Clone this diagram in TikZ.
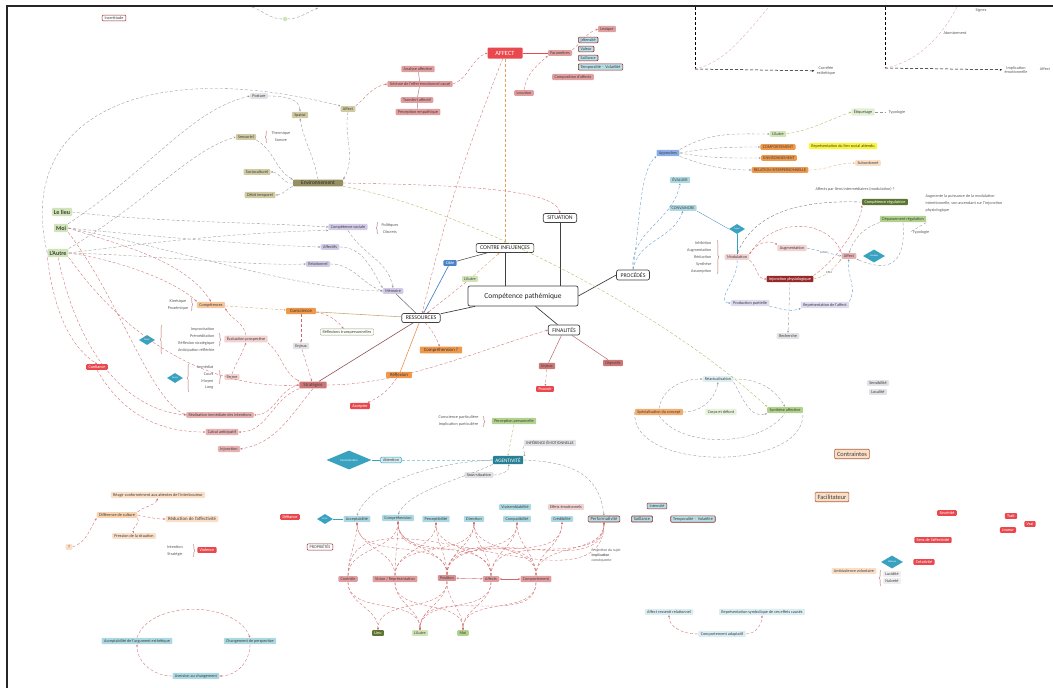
\documentclass[tikz,border=0pt]{standalone}
\usepackage{tikz}
\usepackage{xcolor}
\usepackage{fontspec}
\setmainfont{Carlito}
\usetikzlibrary{arrows.meta,positioning,shapes.geometric,calc,decorations.pathreplacing}

\definecolor{affred}{RGB}{232,72,78}
\definecolor{affpink}{RGB}{226,158,158}
\definecolor{palepink}{RGB}{242,210,208}
\definecolor{rosewood}{RGB}{206,118,118}
\definecolor{bark}{RGB}{150,40,40}
\definecolor{sand}{RGB}{208,202,162}
\definecolor{olivedrab}{RGB}{150,144,96}
\definecolor{leaf}{RGB}{208,228,184}
\definecolor{sprout}{RGB}{176,210,140}
\definecolor{moss}{RGB}{92,118,50}
\definecolor{lilac}{RGB}{208,202,230}
\definecolor{lavender}{RGB}{222,218,240}
\definecolor{sky}{RGB}{172,216,226}
\definecolor{cible}{RGB}{72,132,200}
\definecolor{tangerine}{RGB}{240,152,74}
\definecolor{peach}{RGB}{250,222,198}
\definecolor{mist}{RGB}{226,226,230}
\definecolor{lagoon}{RGB}{56,162,192}
\definecolor{petrol}{RGB}{40,128,150}
\definecolor{lemon}{RGB}{250,244,60}
\definecolor{linkred}{RGB}{208,106,106}
\definecolor{linkgrey}{RGB}{150,150,150}
\definecolor{linkblue}{RGB}{92,150,200}
\definecolor{linkorange}{RGB}{228,162,98}
\definecolor{linkolive}{RGB}{178,178,98}

\begin{document}
\begin{tikzpicture}[
    x=1pt, y=-1pt,
    >={Stealth[length=2.2pt,width=1.8pt]},
    box/.style={rectangle, rounded corners=1pt, inner xsep=2.4pt, inner ysep=1.4pt, align=center, text=black!75, font=\fontsize{4.2}{4.8}\selectfont},
    main/.style={box, draw=black!75, fill=white, line width=0.7pt, rounded corners=2pt, inner xsep=4pt, inner ysep=2.6pt, text=black!85, font=\fontsize{5.8}{6.8}\selectfont},
    big/.style={font=\fontsize{6}{7}\selectfont\bfseries, inner sep=2pt},
    pinkbox/.style={box, fill=affpink},
    palebox/.style={box, fill=palepink},
    redbox/.style={box, fill=affred, text=white},
    tanbox/.style={box, fill=sand},
    olivebox/.style={box, fill=olivedrab, text=black!85, font=\fontsize{5.4}{6.2}\selectfont, minimum width=50pt},
    greenbox/.style={box, fill=leaf},
    purplebox/.style={box, fill=lilac},
    bluebox/.style={box, fill=sky},
    orangebox/.style={box, fill=tangerine, text=black!80, font=\fontsize{4.8}{5.6}\selectfont, inner xsep=4pt},
    peachbox/.style={box, fill=peach},
    greybox/.style={box, fill=mist},
    note/.style={box, text=black!65},
    twolines/.style={note, font=\fontsize{4.2}{7}\selectfont},
    flagbox/.style={box, fill=sky!85, draw=bark, line width=0.6pt},
    propbox/.style={box, fill=white, draw=bark, line width=0.5pt},
    choice/.style={diamond, aspect=1.6, fill=lagoon, inner sep=0pt, minimum width=16pt, minimum height=10pt, text=white, font=\fontsize{2.4}{3}\selectfont},
    trunk/.style={line width=0.7pt, draw=black!75},
    link/.style={->, densely dashed, line width=0.35pt, draw=linkred},
    glink/.style={link, draw=linkgrey},
    blink/.style={link, draw=linkblue},
    olink/.style={link, draw=linkorange},
    ylink/.style={link, draw=linkolive},
    curly/.style={decorate, decoration={brace, amplitude=1.8pt}, draw=bark!70, line width=0.35pt}
]
\useasboundingbox (0,0) rectangle (1053,688);
\draw[line width=1.6pt, black!85] (7,688) -- (7,6) -- (1053,6);

% haut de page
\node[propbox] (doute) at (114,18) {Incertitude};
\node[greenbox, minimum size=4pt, inner sep=0pt] (germe) at (285,19) {};
\coordinate (germeL) at (252,7);
\coordinate (germeR) at (318,8);
\draw[glink, -] (germeL) to[out=-20,in=180] (germe);
\draw[glink] (germe) to[out=0,in=-160] (germeR);

% graphes
\coordinate (g1o) at (695,69);
\coordinate (g1y) at (695,7);
\coordinate (g1c) at (768,8);
\node[note] (g1x) at (826,71) {Corrélée\\esthétique};
\draw[densely dashed, line width=0.5pt] (g1y) -- (g1o);
\draw[densely dashed, line width=0.5pt, ->] (g1o) -- (g1x);
\draw[link, draw=linkred!60] (g1c) .. controls (745,35) and (725,62) .. (g1o);
\coordinate (g2o) at (885,68);
\coordinate (g2y) at (885,7);
\coordinate (g2c) at (957,7);
\node[note] (g2x) at (1016,70) {Implication\\émotionnelle};
\node[note] (g2z) at (1045,69) {Affect};
\node[note] (g2a) at (955,33) {Atomisement};
\node[note] (g2b) at (981,10) {Signes};
\draw[densely dashed, line width=0.5pt] (g2y) -- (g2o);
\draw[densely dashed, line width=0.5pt, ->] (g2o) -- (g2x);
\draw[link, draw=linkred!60] (g2c) .. controls (940,40) and (915,62) .. (g2o);

% AFFECT
\node[redbox, font=\fontsize{6.4}{7.4}\selectfont, minimum width=35pt, minimum height=11pt] (affect) at (505,53) {AFFECT};
\node[pinkbox] (aff1) at (418,69) {Analyse affective};
\node[pinkbox] (aff2) at (420,84) {Schème de l'effet émotionnel causé};
\node[pinkbox] (aff3) at (417,100) {Transfert affectif};
\node[pinkbox] (aff4) at (418,112) {Perception empathique};
\node[pinkbox] (param) at (560,53) {Paramètres};
\node[pinkbox] (lexique) at (607,29) {Lexique};
\node[flagbox, anchor=west] (intens) at (578,40) {Intensité};
\node[flagbox, anchor=west] (valeur) at (578,49) {Valeur};
\node[flagbox, anchor=west] (saill) at (578,58) {Saillance};
\node[flagbox, anchor=west] (tempo) at (578,67) {Temporalité \,·\, Volatilité};
\node[pinkbox] (compos) at (573,77) {Composition d'affects};
\node[pinkbox] (locution) at (524,93) {Locution};
\draw[trunk, draw=affred, line width=0.5pt] (affect) -- (param);
\draw[link] (param.north east) to[out=40,in=200] (lexique.west);
\draw[link] (locution.north) to[out=80,in=220] (param.south west);
\draw[trunk, draw=affpink!80!black, line width=0.5pt] (aff1) -- (aff2) -- (aff3) -- (aff4);
\draw[link] (aff2.east) to[out=20,in=200] (affect.west);

% environnement
\node[greybox] (posture) at (259,96) {Posture};
\node[tanbox] (spatial) at (300,115) {Spatial};
\node[tanbox] (sensoriel) at (246,137) {Sensoriel};
\node[twolines] (thermique) at (281,137) {Thermique\\Sonore};
\node[tanbox] (socio) at (257,172) {Socioculturel};
\node[olivebox] (envir) at (318,183) {Environnement};
\node[tanbox] (debit) at (260,195) {Débit temporel};
\node[tanbox] (affectT) at (348,109) {Affect};
\draw[link] (affectT.north east) to[out=40,in=190] (aff2.west);
\draw[glink] (envir.north) to[out=100,in=-80] (spatial.south);
\draw[glink] (affectT.south) to[out=-100,in=60] (envir.north east);
\draw[glink] (sensoriel.south east) to[out=-30,in=150] (envir.north west);
\draw[glink] (envir.west) to[out=190,in=0] (socio.east);
\draw[glink] (envir.south west) to[out=200,in=0] (debit.east);
\draw[glink] (posture.east) to[out=0,in=90] (spatial.north);
\draw[curly] (267,143) -- (267,131);

% colonne gauche
\node[greenbox, big] (lelieu) at (62,212) {Le lieu};
\node[greenbox, big] (moi) at (61,228) {Moi};
\node[greenbox, big] (lautre) at (58,253) {L'Autre};
\draw[glink] (lautre.west) .. controls (15,120) and (140,55) .. (affectT.north west);
\draw[glink] (moi.north east) .. controls (150,170) and (190,110) .. (posture.west);
\draw[glink] (lautre.north east) .. controls (150,200) and (190,150) .. (sensoriel.west);

% ressources sociales
\node[purplebox] (compet) at (348,227) {Compétence sociale};
\node[note] (politiq) at (390,225) {Politiques};
\node[note] (discrets) at (390,232) {Discrets};
\node[purplebox] (affectifs) at (330,247) {Affectifs};
\node[purplebox] (relation) at (318,264) {Relationnel};
\node[purplebox] (memoire) at (393,291) {Mémoire};
\draw[curly] (378,234) -- (378,222);
\draw[glink] (lelieu.east) .. controls (150,222) and (250,222) .. (compet.west);
\draw[glink] (moi.east) .. controls (150,236) and (250,245) .. (affectifs.west);
\draw[glink] (lautre.east) .. controls (150,255) and (250,266) .. (relation.west);
\draw[glink] (moi.east) .. controls (180,250) and (300,290) .. (memoire.west);
\draw[glink] (lautre.east) .. controls (170,240) and (250,232) .. (compet.south west);
\draw[glink] (compet.south) to[out=-60,in=100] (memoire.north);
\draw[glink] (affectifs.east) to[out=0,in=120] (memoire.north west);
\draw[glink] (relation.east) to[out=0,in=160] (memoire.west);

% coeur
\node[main, minimum width=110pt, minimum height=20pt, font=\fontsize{7.5}{9}\selectfont] (compath) at (523,296) {Compétence pathémique};
\node[main] (contre) at (505,248) {CONTRE INFLUENCES};
\node[main] (situation) at (560,218) {SITUATION};
\node[main] (procedes) at (633,275) {PROCÉDÉS};
\node[main] (finalites) at (564,330) {FINALITÉS};
\node[main] (ressources) at (421,318) {RESSOURCES};
\node[box, fill=cible, text=white] (cible) at (450,263) {Cible};
\node[greenbox] (lautreC) at (470,279) {L'Autre};
\draw[trunk] (contre.south) -- (contre.south |- compath.north);
\draw[trunk] (situation.south) -- (situation.south |- compath.north);
\draw[trunk] (compath.east) -- (procedes.west);
\draw[trunk] (compath) -- (finalites);
\draw[trunk] (compath) -- (ressources);
\draw[trunk, draw=cible] (ressources) -- (cible);
\draw[trunk, line width=0.5pt] (cible) -- (contre);
\draw[trunk, draw=lilac!50!black, line width=0.5pt] (ressources) -- (memoire);
\draw[link] (lautreC) -- (ressources);
\draw[olink] (lautreC) -- (contre);
\draw[olink] (affect) -- (contre);
\draw[link] (affect) to[bend right=4] (ressources);
\draw[link] (envir.east) .. controls (450,185) and (555,188) .. (situation.north);

% conscience et strategies
\node[orangebox] (conscience) at (301,311) {Conscience};
\node[box, fill=white, draw=sprout!80!black, line width=0.4pt] (reflextp) at (347,332) {Réflexions transpersonnelles};
\node[greybox] (enjeuxG) at (301,346) {Enjeux};
\node[box, fill=rosewood, font=\fontsize{4.8}{5.6}\selectfont, inner xsep=4pt] (strategies) at (313,385) {Stratégies};
\node[orangebox] (compre) at (441,350) {Compréhension ?};
\node[orangebox] (reflexion) at (399,375) {Réflexion};
\node[redbox] (accepter) at (360,406) {Accepter};
\draw[trunk, draw=sand!60!brown, line width=0.6pt] (ressources) -- (conscience);
\draw[trunk, draw=rosewood!70!black, line width=0.6pt] (ressources) -- (strategies);
\draw[trunk, draw=tangerine!80!brown, line width=0.6pt] (ressources) -- (reflexion);
\draw[link] (ressources) to[bend left=10] (compre);
\draw[link] (conscience) to[bend left=20] (reflextp);
\draw[link] (conscience) -- (enjeuxG);
\draw[link] (enjeuxG) -- (strategies);
\draw[link] (reflexion) to[bend left=15] (accepter);
\draw[link] (strategies.east) .. controls (400,385) and (480,350) .. (finalites.west);

% evaluation et termes
\node[note] (kine) at (178,301) {Kinésique};
\node[note] (prox) at (178,308) {Proxémique};
\node[peachbox, fill=tangerine!55] (competences) at (211,305) {Compétences};
\draw[curly] (191,298) -- (191,311);
\node[note, anchor=east] (impro) at (217,329) {Improvisation};
\node[note, anchor=east] (premed) at (217,336) {Préméditation};
\node[note, anchor=east] (refstrat) at (217,343) {Réflexion stratégique};
\node[note, anchor=east] (anticip) at (217,350) {Anticipation réfléchie};
\draw[curly] (162,354) -- (162,325);
\draw[curly] (219,333) -- (219,346);
\node[choice] (d1) at (147,340) {Mode};
\node[palebox] (evalu) at (246,339) {Évaluation prospective};
\node[note, anchor=east] (immed) at (216,367) {Immédiat};
\node[note, anchor=east] (court) at (216,374) {Court};
\node[note, anchor=east] (moyen) at (216,381) {Moyen};
\node[note, anchor=east] (long) at (216,388) {Long};
\draw[curly] (189,392) -- (189,364);
\draw[curly] (219,370) -- (219,384);
\node[choice] (d2) at (175,378) {Durée};
\node[palebox] (terme) at (232,377) {Terme};
\node[redbox] (confiance) at (97,367) {Confiance};
\node[palebox, fill=affpink!80] (realis) at (220,415) {Réalisation immédiate des intentions};
\node[palebox, fill=affpink!80] (calcul) at (222,432) {Calcul anticipatif};
\node[palebox, fill=affpink!80] (injonc) at (229,449) {Injonction};
\draw[olink] (competences) -- (conscience);
\draw[link] (evalu.north) to[out=100,in=-60] (competences.south east);
\draw[link] (evalu.south east) to[out=-40,in=150] (strategies.north west);
\draw[link] (terme.north) to[out=70,in=-110] (evalu.south);
\draw[link] (strategies.west) to[out=190,in=0] (realis.east);
\draw[link] (strategies.south west) to[out=200,in=0] (calcul.east);
\draw[link] (strategies.south) to[out=230,in=10] (injonc.east);
\draw[link] (lautre.south) .. controls (80,360) and (130,410) .. (realis.west);
\draw[link] (moi.south east) .. controls (120,300) and (150,400) .. (realis.west);
\draw[link] (lautre.south west) .. controls (55,320) and (75,350) .. (confiance.north);
\draw[link] (confiance.south) to[out=-60,in=180] (calcul.west);
\draw[link] (lautre.south east) .. controls (120,330) and (200,390) .. (strategies.west);
\draw[link] (moi.east) .. controls (120,245) and (185,260) .. (competences.north);
\draw[link] (lautre.east) .. controls (130,262) and (180,285) .. (competences.north west);

% finalites
\node[box, fill=rosewood] (enjeuxF) at (547,366) {Enjeux};
\node[box, fill=rosewood] (objectifs) at (613,363) {Objectifs};
\node[redbox] (pouvoir) at (545,389) {Pouvoir};
\draw[trunk, draw=bark!70, line width=0.5pt] (finalites) -- (enjeuxF);
\draw[trunk, draw=bark!70, line width=0.5pt] (finalites) -- (objectifs);
\draw[link] (enjeuxF) -- (pouvoir);

% procedes
\node[bluebox, fill=sky!80!blue] (approches) at (668,153) {Approches};
\node[greenbox] (lautreP) at (778,134) {L'Autre};
\node[box, fill=tangerine] (comport) at (778,147) {COMPORTEMENT};
\node[box, fill=tangerine] (environ) at (779,158) {ENVIRONNEMENT};
\node[box, fill=tangerine] (relinter) at (780,170) {RELATION INTERPERSONNELLE};
\node[box, fill=lemon] (normes) at (843,146) {Représentation du lien social attendu};
\node[peachbox] (subord) at (868,163) {Subordonné};
\node[greenbox, fill=leaf!60] (etiquette) at (863,112) {Étiquetage};
\node[note] (typo) at (897,112) {Typologie};
\node[bluebox] (evaluer) at (680,180) {ÉVALUER};
\node[bluebox] (convaincre) at (683,208) {CONVAINCRE};
\draw[blink] (procedes.north) .. controls (640,220) and (640,170) .. (approches.south west);
\draw[blink] (procedes.north) to[out=95,in=-100] (evaluer.south);
\draw[blink] (procedes.north) to[out=80,in=-110] (convaincre.south);
\draw[glink] (approches.north east) to[out=30,in=180] (lautreP.west);
\draw[glink] (approches.east) to[out=10,in=180] (comport.west);
\draw[glink] (approches.east) to[out=-10,in=180] (environ.west);
\draw[glink] (approches.south east) to[out=-20,in=180] (relinter.west);
\draw[ylink] (lautreP.east) to[out=10,in=200] (etiquette.west);
\draw[glink, -] (etiquette) -- (typo);
\draw[link, draw=peach!50!brown] (relinter.east) to[out=0,in=180] (subord.west);

% modulation
\node[note] (liens) at (855,189) {Affects par liens intermédiaires (modulation) ?};
\node[box, fill=moss, text=white] (regul) at (885,202) {Compétence régulatrice};
\node[note, anchor=west, align=left, font=\fontsize{4.2}{7}\selectfont] (augmente) at (923,203) {Augmente la puissance de la modulation\\intentionnelle, son ascendant sur l'injonction\\physiologique};
\node[greenbox, fill=sprout] (depass) at (903,219) {Dépassement régulation};
\node[note] (typo2) at (921,232) {Typologie};
\node[choice] (d3) at (737,229) {Types};
\node[note, anchor=east] (inhib) at (714,243) {Inhibition};
\node[note, anchor=east] (augmt) at (714,250) {Augmentation};
\node[note, anchor=east] (reduct) at (714,257) {Réduction};
\node[note, anchor=east] (synthL) at (714,264) {Synthèse};
\node[note, anchor=east] (assompt) at (714,271) {Assomption};
\draw[curly] (717,240) -- (717,274);
\node[palebox] (modul) at (737,257) {Modulation};
\node[palebox] (augm) at (792,248) {Augmentation};
\node[palebox, fill=affpink!80] (affectP) at (849,256) {Affect};
\node[choice, minimum width=22pt, minimum height=13pt] (d4) at (874,256) {Variable};
\node[box, fill=bark, text=white] (injphys) at (790,279) {Injonction physiologique};
\node[box, fill=lavender] (prodpart) at (750,303) {Production partielle};
\node[box, fill=lavender] (repaff) at (825,305) {Représentation de l'affect};
\node[greybox] (recherche) at (788,336) {Recherche};
\draw[trunk, line width=0.4pt, draw=linkblue] (convaincre.south east) -- (d3.west);
\draw[trunk, line width=0.4pt, draw=lagoon] (d3) -- (modul);
\draw[link] (modul.north east) to[out=60,in=150] (augm.north west);
\draw[blink] (augm.east) -- node[note, fill=white, inner sep=0.5pt, font=\fontsize{3}{3.5}\selectfont] {Action} (affectP.west);
\draw[ylink] (injphys.east) to[out=10,in=-130] node[note, fill=white, inner sep=0.5pt, font=\fontsize{3}{3.5}\selectfont] {Effet} (affectP.south west);
\draw[blink] (repaff.north east) to[out=60,in=-100] (affectP.south);
\draw[glink] (injphys.south) -- (recherche.north);
\draw[blink] (modul.south) to[out=-80,in=180] (prodpart.west);
\draw[blink] (prodpart.south east) to[out=-10,in=200] (repaff.south west);
\draw[link] (modul.south east) to[out=-40,in=180] (injphys.west);
\draw[glink, draw=black!55] (regul.west) .. controls (800,200) and (755,212) .. (modul.north);
\draw[link] (affectP.north west) .. controls (830,220) and (775,215) .. (modul.north east);
\draw[glink] (depass.south west) to[out=200,in=70] (affectP.north);
\draw[glink] (depass.south) .. controls (905,250) and (900,278) .. (affectP.south east);
\draw[glink, -] (depass.south east) -- (typo2.west);
\draw[link] (injphys.north east) .. controls (830,265) and (860,230) .. (regul.south west);

% ellipse
\node[bluebox, fill=sky!40] (reactu) at (718,379) {Réactualisation};
\node[box, fill=tangerine!80] (specia) at (659,412) {Spécialisation du concept};
\node[greybox, fill=leaf!50] (corps) at (721,412) {Corps et défunt};
\node[greenbox, fill=sprout] (synth) at (785,410) {Synthèse affective};
\draw[glink] (specia.north) to[out=80,in=180] (reactu.west);
\draw[glink] (specia.east) to[out=0,in=-100] (reactu.south);
\draw[glink] (reactu.south east) to[out=-60,in=200] (synth.south west);
\draw[glink] (reactu.east) to[out=0,in=120] (synth.north);
\draw[glink, -] (specia.south) .. controls (680,448) and (760,448) .. (synth.south);
\draw[glink, -] (specia.west) .. controls (630,472) and (805,472) .. (synth.south east);
\draw[ylink] (envir.south east) .. controls (450,205) and (650,300) .. (synth.north west);
\node[greybox] (sensib) at (878,383) {Sensibilité};
\node[greybox] (localite) at (878,392) {Localité};

% agentivite
\node[twolines, anchor=east] (conspart) at (481,421) {Conscience particulière\\Implication particulière};
\draw[curly] (483,416) -- (483,427);
\node[greenbox, fill=sprout] (percep) at (514,421) {Perception personnelle};
\node[greybox] (inference) at (550,443) {INFÉRENCE ÉMOTIONNELLE};
\node[choice, minimum width=45pt, minimum height=19pt, font=\fontsize{3}{3.5}\selectfont] (bigdiam) at (349,460) {Concentration};
\node[bluebox, fill=sky!50, draw=lagoon, line width=0.5pt] (attention) at (391,460) {Attention};
\node[box, fill=petrol, text=white, font=\fontsize{5.2}{6}\selectfont, inner ysep=2pt] (agent) at (508,460) {AGENTIVITÉ};
\node[greybox] (sous) at (479,475) {Sous-situation};
\draw[trunk, line width=0.5pt, draw=lagoon] (bigdiam) -- (attention);
\draw[blink, draw=lagoon!50] (attention) -- (agent);
\draw[ylink] (percep.south) -- (agent.north);
\draw[glink] (inference.south west) to[out=-150,in=20] (agent.north east);
\draw[glink] (sous.east) to[out=0,in=-60] (agent.south);

% proprietes
\node[redbox] (defiance) at (290,517) {Défiance};
\node[choice] (d5) at (325,519) {Point};
\node[propbox] (propr) at (320,547) {PROPRIÉTÉS};
\node[bluebox] (acceptab) at (357,519) {Acceptabilité};
\node[bluebox] (compr2) at (398,518) {Compréhension};
\node[bluebox] (percept) at (436,519) {Perceptibilité};
\node[bluebox] (direction) at (474,519) {Direction};
\node[bluebox] (vraisem) at (515,507) {Vraisemblabilité};
\node[bluebox] (compat) at (517,519) {Compatibilité};
\node[palebox] (effets) at (566,507) {Effets émotionnels};
\node[bluebox] (credib) at (562,519) {Crédibilité};
\node[flagbox, font=\fontsize{4.6}{5.2}\selectfont] (perform) at (604,519) {Performativité};
\node[flagbox, font=\fontsize{4.6}{5.2}\selectfont] (saill2) at (642,519) {Saillance};
\node[flagbox] (tempo2) at (693,519) {Temporalité \,·\, Volatilité};
\node[flagbox] (intens2) at (657,506) {Intensité};
\node[twolines, anchor=west, font=\fontsize{3.8}{5}\selectfont, align=left] (project) at (589,555) {Projection du sujet\\\textbf{Implication}\\conséquente};
\draw[trunk, line width=0.4pt, draw=lagoon] (d5) -- (acceptab);
\draw[glink] (agent.west) .. controls (440,462) and (370,480) .. (acceptab.north);
\draw[glink] (agent.south west) .. controls (460,480) and (410,490) .. (compr2.north);
\draw[glink] (agent.east) .. controls (580,462) and (600,480) .. (perform.north);

\node[pinkbox] (contr) at (348,579) {Contrôle};
\node[pinkbox] (vision) at (395,579) {Vision / Représentation};
\node[box, fill=rosewood!80] (position) at (447,578) {Position};
\node[pinkbox] (affectsM) at (491,579) {Affects};
\node[pinkbox] (comporte) at (536,579) {Comportement};
\node[box, fill=moss, text=white] (lieu) at (378,633) {Lieu};
\node[greenbox] (lautreB) at (420,633) {L'Autre};
\node[box, fill=sprout] (moiB) at (463,633) {Moi};
\foreach \a/\b in {contr/acceptab, contr/compr2, vision/acceptab, vision/compr2, vision/percept,
    position/acceptab, position/compr2, position/percept, position/direction, position/compat,
    position/credib, position/perform, affectsM/compr2, affectsM/direction, affectsM/percept,
    affectsM/compat, affectsM/perform, comporte/compr2, comporte/direction, comporte/compat,
    comporte/credib, comporte/perform, contr/perform, vision/direction}
    \draw[link] (\a.north) to[out=90,in=-90] (\b.south);
\foreach \a/\b in {contr/lieu, contr/lautreB, vision/lautreB, vision/moiB, position/lautreB,
    position/moiB, position/lieu, affectsM/lautreB, affectsM/moiB, comporte/lautreB, comporte/moiB}
    \draw[link] (\a.south) to[out=-90,in=90] (\b.north);
\draw[link, <->, solid] (position) -- (affectsM);
\draw[link, <->, solid] (affectsM) -- (comporte);

% bas gauche
\node[peachbox] (reagir) at (158,495) {Réagir conformément aux attentes de l'interlocuteur};
\node[peachbox, fill=tangerine!45] (diff) at (117,515) {Différence de culture};
\node[peachbox, font=\fontsize{4.8}{5.6}\selectfont] (reduc) at (192,519) {Réduction de l'affectivité};
\node[peachbox] (pression) at (134,536) {Pression de la situation};
\node[peachbox] (qmark) at (69,547) {?};
\node[note] (intent) at (175,547) {Intention};
\node[note] (strat) at (175,554) {Stratégie};
\draw[curly] (193,544) -- (193,557);
\node[redbox] (violence) at (207,550) {Violence};
\draw[link] (diff.north east) to[out=40,in=-120] (reagir.south);
\draw[link] (diff.east) to[out=-10,in=180] (reduc.west);
\draw[link] (diff.south east) to[out=-40,in=120] (pression.north);
\draw[link] (qmark.east) to[out=20,in=-120] (diff.south west);

\node[bluebox] (acceptb) at (137,641) {Acceptabilité de l'argument esthétique};
\node[bluebox] (changement) at (250,641) {Changement de perspective};
\node[bluebox] (aversion) at (196,676) {Aversion au changement};
\draw[link] (acceptb.north) .. controls (150,600) and (235,600) .. (changement.north);
\draw[link] (changement.south) to[out=-90,in=0] (aversion.east);
\draw[link] (aversion.west) to[out=180,in=-90] (acceptb.south);

% bas droite
\node[bluebox, fill=sky!45] (affrel) at (669,612) {Affect ressenti relationnel};
\node[bluebox, fill=sky!45] (repsym) at (762,612) {Représentation symbolique de ces effets causés};
\node[bluebox, fill=sky!45] (compad) at (722,634) {Comportement adaptatif};
\draw[link] (compad.west) to[out=180,in=-90] (affrel.south);
\draw[link] (compad.east) to[out=0,in=-90] (repsym.south);

\node[peachbox, draw=bark!40!brown, line width=0.6pt, font=\fontsize{6.4}{7.4}\selectfont, inner ysep=2.5pt] (contraintes) at (852,454) {Contraintes};
\node[peachbox, draw=bark!40!brown, line width=0.6pt, font=\fontsize{6.4}{7.4}\selectfont, inner ysep=2.5pt] (facilit) at (832,497) {Facilitateur};
\node[redbox] (sincer) at (947,513) {Sincérité};
\node[redbox] (sensaff) at (933,540) {Sens de l'affectivité};
\node[redbox] (creativ) at (924,562) {Créativité};
\node[redbox] (trait) at (1011,516) {Trait};
\node[redbox] (vrai) at (1030,524) {Vrai};
\node[redbox] (joueur) at (1008,530) {Joueur};
\node[choice, minimum width=22pt, minimum height=13pt] (d6) at (892,562) {Attitude};
\node[peachbox] (ambiv) at (854,571) {Ambivalence volontaire};
\node[greybox, fill=mist!60] (lucid) at (892,574) {Lucidité};
\node[greybox, fill=mist!60] (naiv) at (892,581) {Naïveté};
\draw[curly] (881,586) -- (881,570);
\end{tikzpicture}
\end{document}
